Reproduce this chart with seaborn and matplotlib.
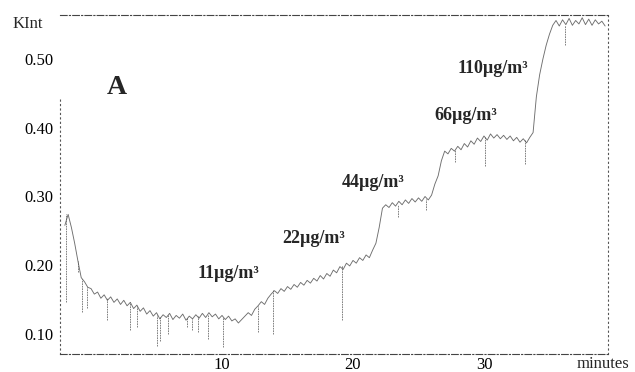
import matplotlib
matplotlib.use('Agg')
import matplotlib.pyplot as plt
import seaborn as sns

# Sensor signal (minutes, KInt)
minutes = [
    -2.0, -1.75, -1.5, -1.25, -1.0, -0.75, -0.5, -0.25,
    0.0, 0.25, 0.5, 0.75, 1.0, 1.25, 1.5, 1.75,
    2.0, 2.25, 2.5, 2.75, 3.0, 3.25, 3.5, 3.75,
    4.0, 4.25, 4.5, 4.75, 5.0, 5.25, 5.5, 5.75,
    6.0, 6.25, 6.5, 6.75, 7.0, 7.25, 7.5, 7.75,
    8.0, 8.25, 8.5, 8.75, 9.0, 9.25, 9.5, 9.75,
    10.0, 10.25, 10.5, 10.75, 11.0, 11.25, 11.5, 11.75,
    12.0, 12.25, 12.5, 12.75, 13.0, 13.25, 13.5, 13.75,
    14.0, 14.25, 14.5, 14.75, 15.0, 15.25, 15.5, 15.75,
    16.0, 16.25, 16.5, 16.75, 17.0, 17.25, 17.5, 17.75,
    18.0, 18.25, 18.5, 18.75, 19.0, 19.25, 19.5, 19.75,
    20.0, 20.25, 20.5, 20.75, 21.0, 21.25, 21.5, 21.75,
    22.0, 22.25, 22.5, 22.75, 23.0, 23.25, 23.5, 23.75,
    24.0, 24.25, 24.5, 24.75, 25.0, 25.25, 25.5, 25.75,
    26.0, 26.25, 26.5, 26.75, 27.0, 27.25, 27.5, 27.75,
    28.0, 28.25, 28.5, 28.75, 29.0, 29.25, 29.5, 29.75,
    30.0, 30.25, 30.5, 30.75, 31.0, 31.25, 31.5, 31.75,
    32.0, 32.25, 32.5, 32.75, 33.0, 33.25, 33.5, 33.75,
    34.0, 34.25, 34.5, 34.75, 35.0, 35.25, 35.5, 35.75,
    36.0, 36.25, 36.5, 36.75, 37.0, 37.25, 37.5, 37.75,
    38.0, 38.25, 38.5, 38.75, 39.0, 39.25,
]
kint = [
    0.258, 0.274, 0.255, 0.232, 0.206, 0.182, 0.176, 0.168,
    0.166, 0.158, 0.161, 0.152, 0.157, 0.149, 0.154, 0.146,
    0.151, 0.143, 0.149, 0.141, 0.146, 0.137, 0.142, 0.133,
    0.138, 0.129, 0.134, 0.126, 0.131, 0.122, 0.128, 0.124,
    0.130, 0.121, 0.127, 0.123, 0.129, 0.120, 0.126, 0.122,
    0.128, 0.123, 0.130, 0.124, 0.131, 0.125, 0.129, 0.122,
    0.127, 0.121, 0.126, 0.119, 0.122, 0.116, 0.121, 0.126,
    0.131, 0.127, 0.136, 0.141, 0.147, 0.143, 0.152, 0.158,
    0.163, 0.159, 0.166, 0.162, 0.169, 0.165, 0.172, 0.168,
    0.175, 0.171, 0.178, 0.174, 0.181, 0.177, 0.185, 0.180,
    0.188, 0.184, 0.193, 0.189, 0.198, 0.194, 0.203, 0.199,
    0.207, 0.203, 0.211, 0.207, 0.215, 0.211, 0.222, 0.232,
    0.255, 0.283, 0.288, 0.284, 0.291, 0.286, 0.293, 0.288,
    0.295, 0.290, 0.297, 0.292, 0.298, 0.293, 0.300, 0.295,
    0.302, 0.318, 0.330, 0.352, 0.366, 0.362, 0.370, 0.366,
    0.373, 0.368, 0.377, 0.372, 0.381, 0.376, 0.385, 0.380,
    0.388, 0.382, 0.391, 0.385, 0.390, 0.384, 0.389, 0.383,
    0.388, 0.381, 0.386, 0.379, 0.384, 0.378, 0.386, 0.393,
    0.445, 0.477, 0.500, 0.520, 0.536, 0.549, 0.556, 0.548,
    0.557, 0.550, 0.559, 0.549, 0.556, 0.551, 0.560, 0.550,
    0.558, 0.549, 0.557, 0.551, 0.555, 0.548,
]

# Single-sample drop-outs seen as thin vertical strokes
dip_times = [-1.9, -1.0, -0.7, -0.3, 1.25, 3.0, 3.5, 5.05, 5.3, 5.9, 7.3, 7.7,
             8.2, 8.95, 10.1, 12.75, 13.9, 19.15, 23.4, 25.6, 27.8, 30.1, 33.1, 36.2]
dip_lows = [0.147, 0.19, 0.132, 0.138, 0.12, 0.106, 0.11, 0.083, 0.09, 0.10, 0.11, 0.106,
            0.103, 0.093, 0.081, 0.103, 0.10, 0.12, 0.27, 0.28, 0.35, 0.345, 0.347, 0.52]
dip_highs = [0.274, 0.206, 0.18, 0.168, 0.152, 0.146, 0.14, 0.128, 0.125, 0.128, 0.125, 0.122,
             0.126, 0.128, 0.124, 0.141, 0.164, 0.20, 0.288, 0.296, 0.368, 0.386, 0.382, 0.55]

# Concentration labels
conc_labels = ['11µg/m³', '22µg/m³', '44µg/m³', '66µg/m³', '110µg/m³']
label_x = [10.5, 17.0, 21.5, 28.6, 30.7]
label_y = [0.1815, 0.2324, 0.3138, 0.4113, 0.4796]

x_ticks = [10, 20, 30]
y_ticks = [0.10, 0.20, 0.30, 0.40, 0.50]

sns.set_style('white')
plt.rcParams['font.family'] = ['Liberation Serif', 'DejaVu Serif']

fig = plt.figure(figsize=(6.35, 3.72), dpi=100)
ax = fig.add_axes([60 / 635, 1 - 354 / 372, 548 / 635, 339 / 372])

sns.lineplot(x=minutes, y=kint, ax=ax, color='#555555', linewidth=0.65, alpha=0.85)
ax.vlines(dip_times, dip_lows, dip_highs, color='#555555', linewidth=0.6,
          linestyles=(0, (2, 1)), alpha=0.85)

ax.set_xlim(-2.37, 39.47)
ax.set_ylim(0.0709, 0.564)
ax.set_xticks(x_ticks)
ax.set_xticklabels([str(t) for t in x_ticks])
ax.set_yticks(y_ticks)
ax.set_yticklabels(['%.2f' % v for v in y_ticks])
ax.tick_params(axis='both', direction='in', length=2, width=0.6, colors='#222222',
               labelsize=12, labelcolor='black')
ax.tick_params(axis='x', pad=2.5)
ax.tick_params(axis='y', pad=5)
ax.set_xlabel('')
ax.set_ylabel('')

# Scanned-looking frame
for side in ['top', 'bottom']:
    ax.spines[side].set_linestyle((0, (6, 2, 1, 2)))
    ax.spines[side].set_linewidth(0.8)
    ax.spines[side].set_color('#444444')
for side in ['left', 'right']:
    ax.spines[side].set_linestyle((0, (1, 3)))
    ax.spines[side].set_linewidth(0.8)
    ax.spines[side].set_color('#555555')
ax.spines['left'].set_bounds(0.0709, 0.443)

for lab, lx, ly in zip(conc_labels, label_x, label_y):
    ax.text(lx, ly, lab, ha='center', va='baseline', fontsize=13, fontweight='bold')

ax.text(1.98, 0.449, 'A', ha='center', va='baseline', fontsize=20, fontweight='bold')

fig.text(27.5 / 635, 1 - 28 / 372, 'KInt', ha='center', va='baseline', fontsize=12)
fig.text(577 / 635, 1 - 368 / 372, 'minutes', ha='left', va='baseline', fontsize=12)

fig.savefig('out.png', dpi=100)
